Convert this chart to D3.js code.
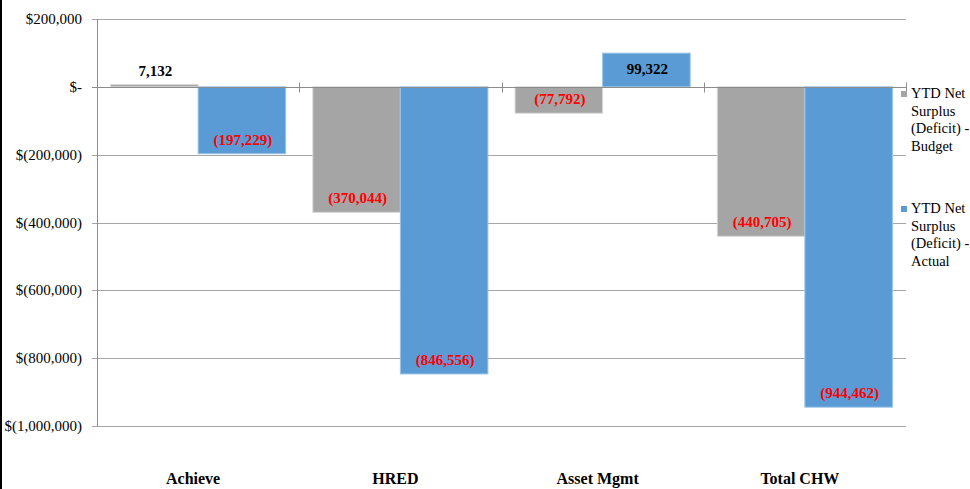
<!DOCTYPE html>
<html>
<head>
<meta charset="utf-8">
<script src="https://cdn.jsdelivr.net/npm/d3@7/dist/d3.min.js"></script>
<style>
  html, body { margin: 0; padding: 0; background: #fff; }
  svg { display: block; font-family: "Liberation Serif", "Times New Roman", serif; }
</style>
</head>
<body>
<svg id="chart" width="970" height="489"></svg>
<script>
// Departments and YTD net surplus / deficit figures
const categories = ["Achieve", "HRED", "Asset Mgmt", "Total CHW"];
const budget = [7132, -370044, -77792, -440705];
const actual = [-197229, -846556, 99322, -944462];
const seriesNames = ["YTD Net Surplus (Deficit) - Budget", "YTD Net Surplus (Deficit) - Actual"];
const legendLines = [
  ["YTD Net", "Surplus", "(Deficit) -", "Budget"],
  ["YTD Net", "Surplus", "(Deficit) -", "Actual"]
];
const yTicks = [200000, 0, -200000, -400000, -600000, -800000, -1000000];
const colors = ["#A5A5A5", "#5B9BD5"];
const strokes = ["#d9d9d9", "#9dc3e6"];

const svg = d3.select("#chart");
const W = 970, H = 489;
const plot = { left: 97, right: 906, top: 19, bottom: 426 };

const x = d3.scaleBand().domain(categories).range([plot.left, plot.right]).paddingInner(0).paddingOuter(0);
const x1 = d3.scaleBand().domain([0, 1]).range([0, x.bandwidth()]).paddingInner(0).paddingOuter(0.155);
const y = d3.scaleLinear().domain([-1000000, 200000]).range([plot.bottom, plot.top]);

const fmtAxis = v => {
  if (v === 0) return "$-";
  const s = d3.format(",")(Math.abs(v));
  return v < 0 ? "$(" + s + ")" : "$" + s;
};
const fmtLabel = v => {
  const s = d3.format(",")(Math.abs(v));
  return v < 0 ? "(" + s + ")" : s;
};

// left frame edge
svg.append("rect").attr("x", 0).attr("y", 0).attr("width", 2).attr("height", H).attr("fill", "#000");

// gridlines
svg.append("g").selectAll("line").data(yTicks).join("line")
  .attr("x1", plot.left - 5).attr("x2", plot.right)
  .attr("y1", d => Math.round(y(d)) + 0.5).attr("y2", d => Math.round(y(d)) + 0.5)
  .attr("stroke", "#a6a6a6").attr("stroke-width", 1);

// y axis line
svg.append("line")
  .attr("x1", plot.left + 0.5).attr("x2", plot.left + 0.5)
  .attr("y1", plot.top).attr("y2", plot.bottom)
  .attr("stroke", "#8c8c8c");

// y tick labels
svg.append("g").selectAll("text").data(yTicks).join("text")
  .attr("x", 82).attr("y", d => y(d) + 5)
  .attr("text-anchor", "end")
  .attr("font-size", 15).attr("fill", "#000")
  .text(fmtAxis);

// bars
const series = [budget, actual];
const barData = [];
categories.forEach((c, i) => {
  series.forEach((s, k) => barData.push({ cat: c, k, v: s[i] }));
});

svg.append("g").selectAll("rect").data(barData).join("rect")
  .attr("x", d => x(d.cat) + x1(d.k))
  .attr("width", x1.bandwidth())
  .attr("y", d => y(Math.max(0, d.v)))
  .attr("height", d => Math.abs(y(d.v) - y(0)))
  .attr("fill", d => colors[d.k])
  .attr("stroke", d => strokes[d.k]).attr("stroke-width", 1);

// zero line with category separators
const y0 = Math.round(y(0)) + 0.5;
svg.append("line").attr("x1", plot.left - 5).attr("x2", plot.right)
  .attr("y1", y0).attr("y2", y0).attr("stroke", "#8c8c8c");
const bounds = categories.map(c => x(c) + x.bandwidth());
svg.append("g").selectAll("line").data(bounds).join("line")
  .attr("x1", d => Math.round(d) + 0.5).attr("x2", d => Math.round(d) + 0.5)
  .attr("y1", y0 - 5).attr("y2", y0 + 5).attr("stroke", "#8c8c8c");

// data labels
svg.append("g").selectAll("text").data(barData).join("text")
  .attr("x", d => x(d.cat) + x1(d.k) + x1.bandwidth() / 2 + 1)
  .attr("y", d => {
    if (d.v < 0) return y(d.v) - 9;
    const inside = y(d.v) + 21;
    return inside > y(0) - 2 ? y(0) - 11 : inside;
  })
  .attr("text-anchor", "middle")
  .attr("font-size", 15).attr("font-weight", "bold")
  .attr("fill", d => d.v < 0 ? "#ff0000" : "#000")
  .text(d => fmtLabel(d.v));

// category labels
svg.append("g").selectAll("text").data(categories).join("text")
  .attr("x", d => x(d) + x.bandwidth() / 2 - 5)
  .attr("y", 484)
  .attr("text-anchor", "middle")
  .attr("font-size", 16).attr("font-weight", "bold")
  .text(d => d);

// legend
const legend = svg.append("g");
const legendTop = [91, 206];
seriesNames.forEach((name, k) => {
  const g = legend.append("g").attr("aria-label", name);
  g.append("rect").attr("x", 901).attr("y", legendTop[k]).attr("width", 6).attr("height", 6)
    .attr("fill", colors[k]);
  g.append("text").attr("x", 911).attr("y", legendTop[k] + 7)
    .attr("font-size", 14.5)
    .selectAll("tspan").data(legendLines[k]).join("tspan")
    .attr("x", 911).attr("dy", (d, i) => i === 0 ? 0 : 17.6)
    .text(d => d);
});
</script>
</body>
</html>
